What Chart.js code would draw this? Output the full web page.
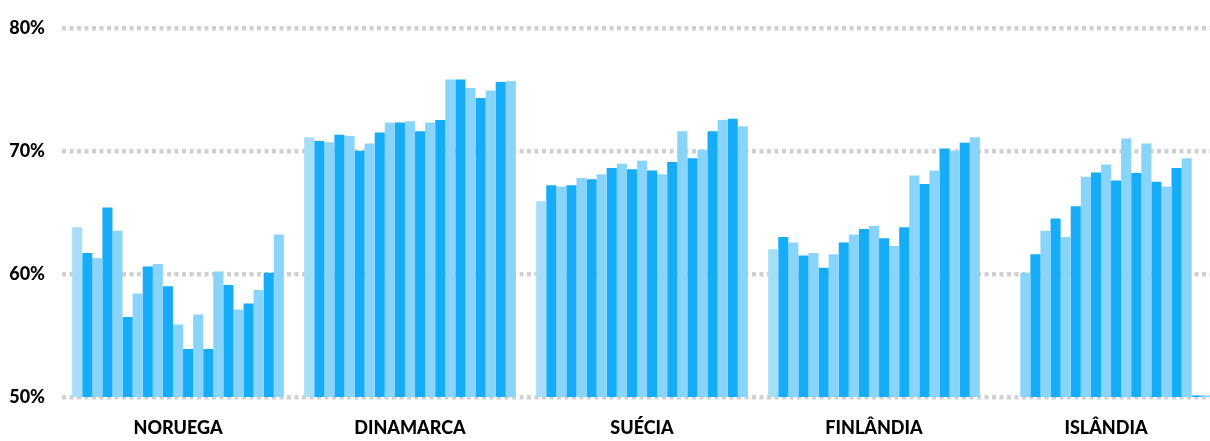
<!DOCTYPE html>
<html>
<head>
<meta charset="utf-8">
<script src="https://cdn.jsdelivr.net/npm/chart.js@4/dist/chart.umd.min.js"></script>
<style>
  html, body { margin: 0; padding: 0; background: #fff; overflow: hidden; }
  #wrap { width: 1222px; height: 441px; position: relative; }
</style>
</head>
<body>
<div id="wrap"><canvas id="chart"></canvas></div>
<script>
const countries = ['NORUEGA', 'DINAMARCA', 'SUÉCIA', 'FINLÂNDIA', 'ISLÂNDIA'];

// 21 yearly values per country
const noruega = [63.8, 61.7, 61.3, 65.4, 63.5, 56.5, 58.4, 60.6, 60.8, 59.0, 55.9,
                 53.9, 56.7, 53.9, 60.2, 59.1, 57.1, 57.6, 58.7, 60.1, 63.2];
const dinamarca = [71.1, 70.8, 70.7, 71.3, 71.2, 70.0, 70.6, 71.5, 72.3, 72.3, 72.4,
                   71.6, 72.3, 72.5, 75.8, 75.8, 75.1, 74.3, 74.9, 75.6, 75.65];
const suecia = [65.9, 67.2, 67.1, 67.2, 67.8, 67.7, 68.1, 68.6, 68.95, 68.5, 69.2,
                68.4, 68.1, 69.1, 71.6, 69.4, 70.1, 71.6, 72.5, 72.6, 72.0];
const finlandia = [62.0, 63.0, 62.55, 61.5, 61.7, 60.5, 61.6, 62.55, 63.2, 63.65, 63.9,
                   62.9, 62.26, 63.8, 68.0, 67.3, 68.4, 70.2, 70.0, 70.65, 71.1];
const islandia = [null, null, 60.1, 61.6, 63.5, 64.5, 63.0, 65.5, 67.9, 68.25, 68.9,
                  67.6, 71.0, 68.2, 70.6, 67.5, 67.1, 68.6, 69.4, 50.12, 50.12];

const yTicks = [50, 60, 70, 80];

const series = [noruega, dinamarca, suecia, finlandia, islandia];
const nYears = noruega.length;

const datasets = [];
for (let i = 0; i < nYears; i++) {
    let color = (i % 2 === 1) ? '#16acf8' : '#88d4fb';
    if (i === 0) color = '#a6def9';
    datasets.push({
        label: 'ano ' + (i + 1),
        data: series.map(s => s[i]),
        backgroundColor: color,
        borderWidth: 0,
        barPercentage: 1.0,
        categoryPercentage: 0.9125
    });
}

const ctx = document.getElementById('chart');
new Chart(ctx, {
    type: 'bar',
    data: { labels: countries, datasets: datasets },
    options: {
        responsive: true,
        maintainAspectRatio: false,
        animation: false,
        layout: { padding: { top: 25, right: 0, left: 0, bottom: 0 } },
        plugins: { legend: { display: false }, tooltip: { enabled: false } },
        scales: {
            x: {
                grid: { display: false },
                border: { display: false },
                afterFit: s => { s.height = 44; },
                ticks: {
                    color: '#000',
                    padding: 12,
                    font: { family: 'Lato', weight: '900', size: 18 }
                }
            },
            y: {
                min: 50,
                max: 80,
                z: 1,
                afterFit: s => { s.width = 62; },
                afterBuildTicks: s => { s.ticks = yTicks.map(v => ({ value: v })); },
                border: { display: false, dash: [4, 3.5] },
                grid: {
                    color: 'rgba(150,150,150,0.45)',
                    lineWidth: 4.5,
                    drawTicks: false
                },
                ticks: {
                    color: '#000',
                    padding: 17,
                    font: { family: 'Lato', weight: '900', size: 18 },
                    callback: v => v + '%'
                }
            }
        }
    }
});
</script>
</body>
</html>
